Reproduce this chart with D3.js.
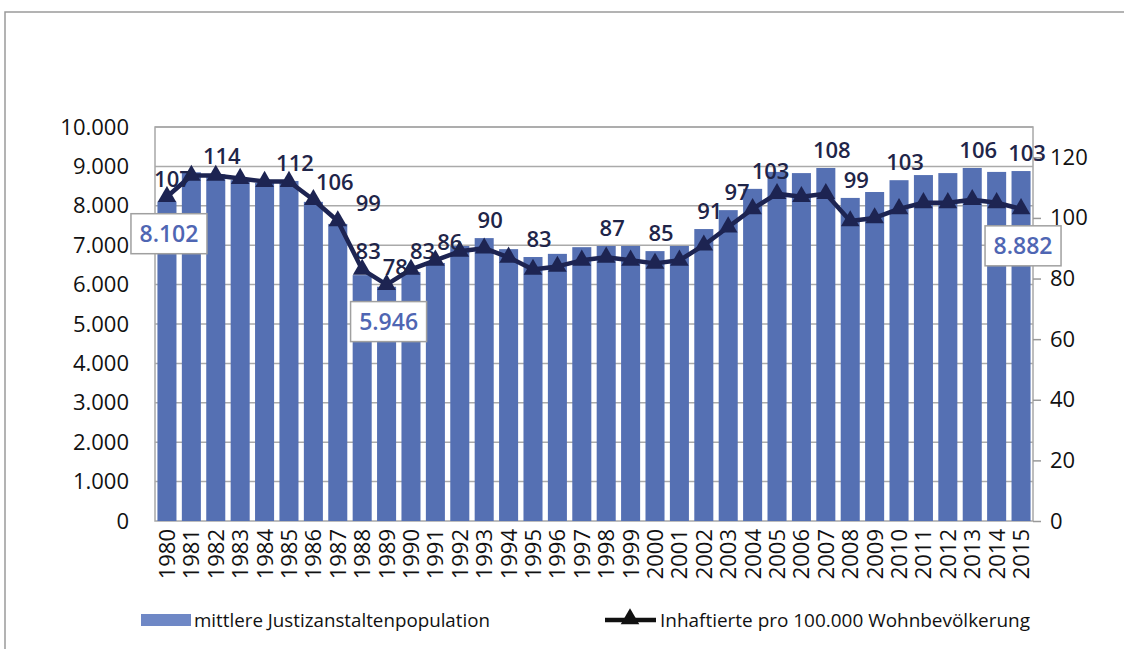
<!DOCTYPE html>
<html>
<head>
<meta charset="utf-8">
<script src="https://cdn.jsdelivr.net/npm/d3@7"></script>
<style>
  body { margin: 0; background: #fff; }
  svg { display: block; font-family: "Open Sans", sans-serif; }
</style>
</head>
<body>
<svg id="chart" width="1130" height="649"></svg>
<script>
// data
const years = [1980,1981,1982,1983,1984,1985,1986,1987,1988,1989,1990,1991,1992,1993,1994,1995,1996,1997,
  1998,1999,2000,2001,2002,2003,2004,2005,2006,2007,2008,2009,2010,2011,2012,2013,2014,2015]
const population = [8102,8850,8800,8650,8580,8630,8100,7540,6240,5946,6320,6550,6980,7180,6900,6700,6780,6950,
  6980,6980,6850,6980,7410,7890,8430,8860,8830,8960,8200,8350,8650,8780,8830,8960,8860,8882]
const rate = [107,114,114,113,112,112,106,99,83,78,83,86,89,90,87,83,84,86,
  87,86,85,86,91,97,103,108,107,108,99,100,103,105,105,106,105,103]
const labelYears = [1980,1982,1985,1986,1987,1988,1989,1990,1991,1993,1995,1998,2000,2002,2003,2004,2007,2008,2010,2013,2015]
const boxYears = [1980,1989,2015]
const leftTicks = [0,1000,2000,3000,4000,5000,6000,7000,8000,9000,10000]
const rightTicks = [0,20,40,60,80,100,120]
const legendBars = "mittlere Justizanstaltenpopulation"
const legendLine = "Inhaftierte pro 100.000 Wohnbevölkerung"

const svg = d3.select("#chart")
const plot = {left: 155, right: 1033, top: 127, bottom: 521}
const de = d3.formatLocale({decimal: ",", thousands: ".", grouping: [3], currency: ["", " €"]})
const fmt = de.format(",d")

const x = d3.scaleBand().domain(years).range([plot.left, plot.right]).paddingInner(0.22).paddingOuter(0.1)
const yL = d3.scaleLinear().domain([0, 10000]).range([plot.bottom, plot.top])
const yR = d3.scaleLinear().domain([0, 130]).range([plot.bottom, plot.top])
const cx = d => x(d) + x.bandwidth() / 2

// outer frame
svg.append("path").attr("d", "M5,649 V12 H1124").attr("fill", "none").attr("stroke", "#9a9a9a").attr("stroke-width", 1.5)

// gridlines
svg.append("g").selectAll("line").data(leftTicks.slice(1)).enter().append("line")
  .attr("x1", plot.left).attr("x2", plot.right)
  .attr("y1", d => yL(d)).attr("y2", d => yL(d))
  .attr("stroke", "#aaa").attr("stroke-width", 1.5)
svg.append("rect").attr("x", plot.left).attr("y", plot.top)
  .attr("width", plot.right - plot.left).attr("height", plot.bottom - plot.top)
  .attr("fill", "none").attr("stroke", "#a8a8a8").attr("stroke-width", 1.5)

// bars
svg.append("g").selectAll("rect").data(years).enter().append("rect")
  .attr("x", d => x(d)).attr("width", x.bandwidth())
  .attr("y", (d, i) => yL(population[i]))
  .attr("height", (d, i) => plot.bottom - yL(population[i]))
  .attr("fill", "#5570b3")

// left axis
const axL = svg.append("g").attr("transform", `translate(${plot.left},0)`)
  .call(d3.axisLeft(yL).tickValues(leftTicks).tickFormat(fmt).tickSize(0).tickPadding(26))
axL.select(".domain").remove()
axL.selectAll("text").attr("font-size", 22).attr("fill", "#111").attr("font-family", "Open Sans")

// right axis
const axR = svg.append("g").attr("transform", `translate(${plot.right},0)`)
  .call(d3.axisRight(yR).tickValues(rightTicks).tickSize(8).tickPadding(9))
axR.select(".domain").remove()
axR.selectAll("line").attr("stroke", "#999").attr("stroke-width", 1.5)
axR.selectAll("text").attr("font-size", 22).attr("fill", "#111").attr("font-family", "Open Sans")

// year labels
svg.append("g").selectAll("text").data(years).enter().append("text")
  .attr("transform", d => `translate(${cx(d) + 8},529) rotate(-90)`)
  .attr("text-anchor", "end")
  .attr("font-size", 22).attr("fill", "#111")
  .text(d => d)

// rate line
const pts = years.map((d, i) => [cx(d), yR(rate[i])])
svg.append("path").attr("d", d3.line()(pts))
  .attr("fill", "none").attr("stroke", "#1d2452").attr("stroke-width", 4.5).attr("stroke-linejoin", "round")
const tri = d3.symbol().type(d3.symbolTriangle).size(150)
svg.append("g").selectAll("path").data(pts).enter().append("path")
  .attr("d", tri).attr("transform", d => `translate(${d[0]},${d[1]})`)
  .attr("fill", "#1d2452")

// rate labels, pushed right when they would collide with the previous one
let prev = null
const labelPos = labelYears.map(d => {
  const i = years.indexOf(d)
  const t = String(rate[i])
  const p = {t, w: t.length * 12.6, x: cx(d) + 6, y: Math.min(yL(population[i]), yR(rate[i])) - 10}
  if (prev && Math.abs(p.y - prev.y) < 25 && p.x - prev.x < (p.w + prev.w) / 2 + 2) {
    p.x = prev.x + (p.w + prev.w) / 2 + 2
  }
  prev = p
  return p
})
svg.append("g").selectAll("text").data(labelPos).enter().append("text")
  .attr("x", d => d.x).attr("y", d => d.y)
  .attr("text-anchor", "middle")
  .attr("font-size", 22).attr("font-weight", 600).attr("fill", "#1f2549")
  .text(d => d.t)

// boxed population labels
const boxes = svg.append("g").selectAll("g").data(boxYears).enter().append("g")
  .attr("transform", d => `translate(${cx(d) + 2},${yR(rate[years.indexOf(d)]) + 37})`)
boxes.append("rect").attr("x", -38).attr("y", -20).attr("width", 76).attr("height", 40)
  .attr("fill", "#fff").attr("stroke", "#a0a0a0").attr("stroke-width", 1.5)
boxes.append("text").attr("text-anchor", "middle").attr("dy", 8)
  .attr("font-size", 23).attr("font-weight", 600).attr("fill", "#4f66b3")
  .text(d => fmt(population[years.indexOf(d)]))

// legend
const lg = svg.append("g")
lg.append("rect").attr("x", 141).attr("y", 614).attr("width", 50).attr("height", 12).attr("fill", "#6f88c6")
lg.append("text").attr("x", 194).attr("y", 627).attr("font-size", 18).attr("fill", "#111")
  .attr("textLength", 296).attr("lengthAdjust", "spacingAndGlyphs").text(legendBars)
lg.append("line").attr("x1", 605).attr("x2", 656).attr("y1", 620).attr("y2", 620)
  .attr("stroke", "#111").attr("stroke-width", 4.5)
lg.append("path").attr("d", tri).attr("transform", "translate(630,619)").attr("fill", "#111")
lg.append("text").attr("x", 660).attr("y", 627).attr("font-size", 18).attr("fill", "#111")
  .attr("textLength", 370).attr("lengthAdjust", "spacingAndGlyphs").text(legendLine)
</script>
</body>
</html>
